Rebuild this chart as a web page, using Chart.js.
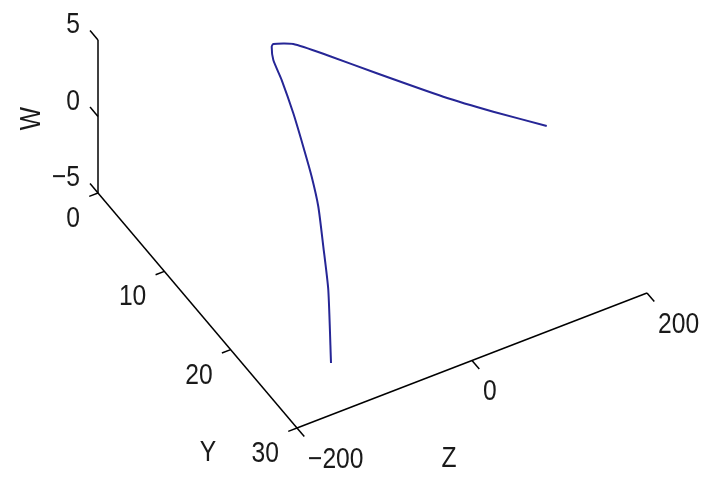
<!DOCTYPE html>
<html>
<head>
<meta charset="utf-8">
<script src="https://cdn.jsdelivr.net/npm/chart.js@4/dist/chart.umd.min.js"></script>
<style>
  html, body { margin: 0; padding: 0; background: #ffffff; }
  #wrap { width: 708px; height: 477px; }
</style>
</head>
<body>
<div id="wrap"><canvas id="c" width="708" height="477"></canvas></div>
<script>
// Trajectory samples
const curveY = [25.01, 20.83, 18.68, 16.86, 15.20, 13.47, 11.36, 9.20, 7.70, 6.94, 6.89, 7.49, 9.34, 12.08, 15.33, 17.45, 19.78];
const curveZ = [-123.3, -94.7, -84.1, -76.0, -71.0, -67.5, -62.9, -59.8, -58.0, -54.1, -51.9, -33.6, -9.5, 27.0, 78.4, 119.5, 162.9];
const curveW = [-5, -3, -1.5, 0, 1, 2, 3, 4, 4.5, 4.9, 5, 4.9, 4.6, 4, 3, 2.2, 1.5];

// Axis ranges and tick labels
const yRange = [0, 30];
const zRange = [-200, 200];
const wRange = [-5, 5];
const yTicks = [0, 10, 20, 30];
const zTicks = [-200, 0, 200];
const wTicks = [-5, 0, 5];
const yName = 'Y';
const zName = 'Z';
const wName = 'W';

// Oblique 3-D view: canvas offset produced by one data unit along each axis
const view = {
  origin: [98, 193],
  perY: [6.633, 7.833],
  perZ: [0.875, -0.3375],
  perW: [0, -15.3]
};

function project(y, z, w) {
  const dy = y - yRange[0], dz = z - zRange[0], dw = w - wRange[0];
  return {
    x: view.origin[0] + dy * view.perY[0] + dz * view.perZ[0] + dw * view.perW[0],
    y: view.origin[1] + dy * view.perY[1] + dz * view.perZ[1] + dw * view.perW[1]
  };
}

const curvePts = curveY.map((y, i) => project(y, curveZ[i], curveW[i]));

// Box edges carrying the tick marks
const wAxis = [project(yRange[0], zRange[0], wRange[0]), project(yRange[0], zRange[0], wRange[1])];
const yAxis = [project(yRange[0], zRange[0], wRange[0]), project(yRange[1], zRange[0], wRange[0])];
const zAxis = [project(yRange[1], zRange[0], wRange[0]), project(yRange[1], zRange[1], wRange[0])];

const AXIS_WIDTH = 1.5;
const FONT = '29px "Liberation Sans", Arial, sans-serif';
const TEXT_COLOR = '#1a1a1a';

function drawText(ctx, text, x, y, align, rot) {
  ctx.save();
  ctx.translate(x, y);
  if (rot) ctx.rotate(rot);
  ctx.scale(0.85, 1);
  ctx.font = FONT;
  ctx.fillStyle = TEXT_COLOR;
  ctx.textAlign = align;
  ctx.textBaseline = 'middle';
  ctx.fillText(text, 0, 0);
  ctx.restore();
}

function fmt(v) { return v < 0 ? '\u2212' + Math.abs(v) : String(v); }

const axesDecor = {
  id: 'axesDecor',
  afterDatasetsDraw(chart) {
    const ctx = chart.ctx;
    const sx = chart.scales.x, sy = chart.scales.y;
    const px = p => ({ x: sx.getPixelForValue(p.x), y: sy.getPixelForValue(p.y) });

    ctx.save();
    ctx.strokeStyle = '#000000';
    ctx.lineWidth = AXIS_WIDTH;
    const seg = (a, b) => { const A = px(a), B = px(b); ctx.beginPath(); ctx.moveTo(A.x, A.y); ctx.lineTo(B.x, B.y); ctx.stroke(); };

    // W ticks point back along -Y
    wTicks.forEach(w => {
      const a = project(yRange[0], zRange[0], w);
      seg(a, project(yRange[0] - 1.2, zRange[0], w));
      const A = px(a);
      drawText(ctx, fmt(w), A.x - 18, A.y - 15, 'right');
    });
    // Y ticks point along -Z
    yTicks.forEach(y => {
      const a = project(y, zRange[0], wRange[0]);
      seg(a, project(y, zRange[0] - 10, wRange[0]));
      const A = px(a);
      drawText(ctx, fmt(y), A.x - 18, A.y + 26, 'right');
    });
    // Z ticks point along +Y
    zTicks.forEach(z => {
      const a = project(yRange[1], z, wRange[0]);
      seg(a, project(yRange[1] + 1.1, z, wRange[0]));
      const A = px(a);
      drawText(ctx, fmt(z), A.x + 11, A.y + 32, 'left');
    });

    // Axis names
    const wMid = px(project(yRange[0], zRange[0], (wRange[0] + wRange[1]) / 2));
    drawText(ctx, wName, wMid.x - 66, wMid.y + 2, 'center', -Math.PI / 2);
    const yEnd = px(project(yRange[1], zRange[0], wRange[0]));
    drawText(ctx, yName, yEnd.x - 89, yEnd.y + 25, 'center');
    const zMid = px(project(yRange[1], (zRange[0] + zRange[1]) / 2, wRange[0]));
    drawText(ctx, zName, zMid.x - 23, zMid.y + 99, 'center');
    ctx.restore();
  }
};

const lineSet = (pts, color, width) => ({
  data: pts, showLine: true, borderColor: color, borderWidth: width,
  pointRadius: 0, pointHoverRadius: 0, fill: false, tension: 0
});

const curveSet = lineSet(curvePts, 'rgb(38,38,150)', 2);
curveSet.tension = 0.2;

new Chart(document.getElementById('c'), {
  type: 'scatter',
  data: {
    datasets: [
      lineSet(wAxis, '#000000', AXIS_WIDTH),
      lineSet(yAxis, '#000000', AXIS_WIDTH),
      lineSet(zAxis, '#000000', AXIS_WIDTH),
      curveSet
    ]
  },
  options: {
    responsive: false,
    animation: false,
    layout: { padding: 0 },
    plugins: { legend: { display: false }, tooltip: { enabled: false } },
    scales: {
      x: { type: 'linear', min: 0, max: 708, display: false },
      y: { type: 'linear', min: 0, max: 477, reverse: true, display: false }
    }
  },
  plugins: [axesDecor]
});
</script>
</body>
</html>
